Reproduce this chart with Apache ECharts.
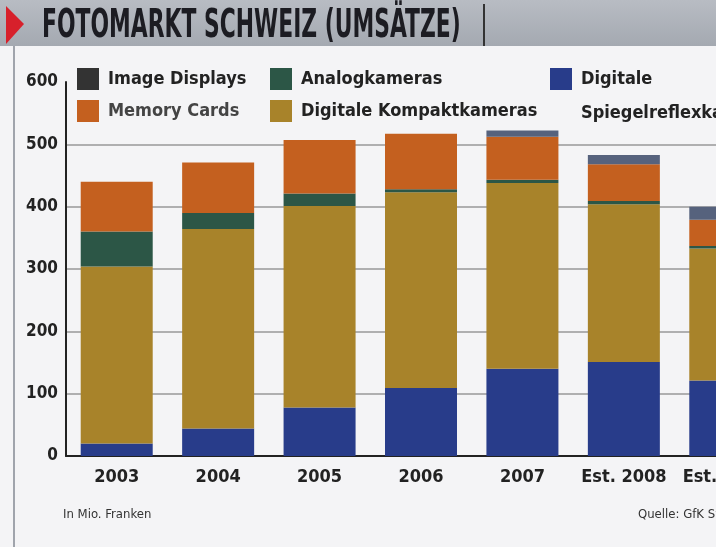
<!DOCTYPE html>
<html>
<head>
<meta charset="utf-8">
<script src="https://cdn.jsdelivr.net/npm/echarts@6/dist/echarts.min.js"></script>
<style>
html, body { margin: 0; padding: 0; overflow: hidden; background: #f4f4f6; }
#chart { width: 800px; height: 547px; }
</style>
</head>
<body>
<div id="chart"></div>
<script>
var myChart = echarts.init(document.getElementById('chart'));

// Daten (Mio. CHF), von unten nach oben gestapelt
var jahre = ['2003', '2004', '2005', '2006', '2007', 'Est. 2008', 'Est. 2009'];
var spiegelreflex = [20, 44, 78, 109, 140, 151, 121];
var kompakt = [284, 320, 323, 314, 298, 253, 212];
var analog = [56, 26, 20, 5, 5, 5, 4];
var memory = [80, 81, 86, 89, 69, 59, 42];
var displays = [0, 0, 0, 0, 10, 15, 21];
var yTicks = [0, 100, 200, 300, 400, 500, 600];

var font = '"DejaVu Sans Condensed", "Liberation Sans", sans-serif';

function serie(name, data, color) {
	return {
		name: name,
		type: 'bar',
		stack: 'total',
		barWidth: 72,
		data: data,
		itemStyle: { color: color },
		emphasis: { disabled: true }
	};
}

var legendText = {
	fontFamily: font,
	fontWeight: 'bold',
	fontSize: 18,
	color: '#222',
	padding: [0, 0, 0, 4]
};

myChart.setOption(option = {
	backgroundColor: '#f4f4f6',
	animation: false,
	grid: {
		left: 66,
		top: 82,
		bottom: 91,
		right: 24
	},
	xAxis: {
		type: 'category',
		data: jahre,
		axisLine: { lineStyle: { color: '#222', width: 2 } },
		axisTick: { inside: true, length: 7, interval: 0, lineStyle: { color: '#222', width: 2 } },
		axisLabel: {
			interval: 0,
			fontFamily: font,
			fontWeight: 'bold',
			fontSize: 18,
			color: '#222',
			margin: 12
		}
	},
	yAxis: {
		type: 'value',
		min: yTicks[0],
		max: yTicks[yTicks.length - 1],
		interval: 100,
		axisLine: { show: true, lineStyle: { color: '#222', width: 2 } },
		axisTick: { show: false },
		axisLabel: {
			fontFamily: font,
			fontWeight: 'bold',
			fontSize: 17,
			color: '#222',
			margin: 8
		},
		splitLine: {
			lineStyle: {
				color: ['#999', '#999', '#999', '#999', '#999', '#999', 'rgba(0,0,0,0)'],
				width: 1.5
			}
		}
	},
	legend: [
		{
			left: 77, top: 68, orient: 'vertical', padding: 0,
			itemWidth: 22, itemHeight: 22, itemGap: 10,
			icon: 'rect',
			textStyle: legendText,
			data: [
				{ name: 'Image Displays', itemStyle: { color: '#333' } },
				{ name: 'Memory Cards', textStyle: { color: '#444' } }
			],
			selectedMode: false
		},
		{
			left: 270, top: 68, orient: 'vertical', padding: 0,
			itemWidth: 22, itemHeight: 22, itemGap: 10,
			icon: 'rect',
			textStyle: legendText,
			data: ['Analogkameras', 'Digitale Kompaktkameras'],
			selectedMode: false
		},
		{
			left: 550, top: 28, orient: 'vertical', padding: 0,
			itemWidth: 22, itemHeight: 22,
			icon: 'rect',
			textStyle: {
				fontFamily: font,
				fontWeight: 'bold',
				fontSize: 18,
				color: '#222',
				lineHeight: 34,
				padding: [0, 0, 0, 4]
			},
			formatter: function () { return ' \nDigitale\nSpiegelreflexkameras'; },
			data: ['Digitale Spiegelreflexkameras'],
			selectedMode: false
		}
	],
	graphic: [
		{
			type: 'rect',
			shape: { x: 0, y: 0, width: 800, height: 46 },
			style: {
				fill: new echarts.graphic.LinearGradient(0, 0, 0, 1, [
					{ offset: 0, color: '#b8bcc3' },
					{ offset: 1, color: '#a4a9b1' }
				])
			},
			silent: true
		},
		{
			type: 'polygon',
			shape: { points: [[6, 6], [24, 24], [6, 44]] },
			style: { fill: '#d7202b' },
			silent: true
		},
		{
			type: 'line',
			shape: { x1: 484, y1: 4, x2: 484, y2: 46 },
			style: { stroke: '#333', lineWidth: 2 },
			silent: true
		},
		{
			type: 'line',
			shape: { x1: 14, y1: 46, x2: 14, y2: 547 },
			style: { stroke: '#a0a4ac', lineWidth: 2 },
			silent: true
		},
		{
			type: 'text',
			x: 42, y: 7,
			scaleX: 0.81,
			scaleY: 1.3,
			style: {
				text: 'FOTOMARKT SCHWEIZ (UMSÄTZE)',
				font: 'bold 30px ' + font,
				fill: '#1c1c22'
			},
			silent: true
		},
		{
			type: 'text',
			left: 63, top: 508,
			style: {
				text: 'In Mio. Franken',
				font: '13px ' + font,
				fill: '#333'
			},
			silent: true
		},
		{
			type: 'text',
			left: 638, top: 508,
			style: {
				text: 'Quelle: GfK Switzerland',
				font: '13px ' + font,
				fill: '#333'
			},
			silent: true
		}
	],
	series: [
		serie('Digitale Spiegelreflexkameras', spiegelreflex, '#283c8a'),
		serie('Digitale Kompaktkameras', kompakt, '#a8832a'),
		serie('Analogkameras', analog, '#2c5646'),
		serie('Memory Cards', memory, '#c4601f'),
		serie('Image Displays', displays, '#56627d')
	]
});
</script>
</body>
</html>
